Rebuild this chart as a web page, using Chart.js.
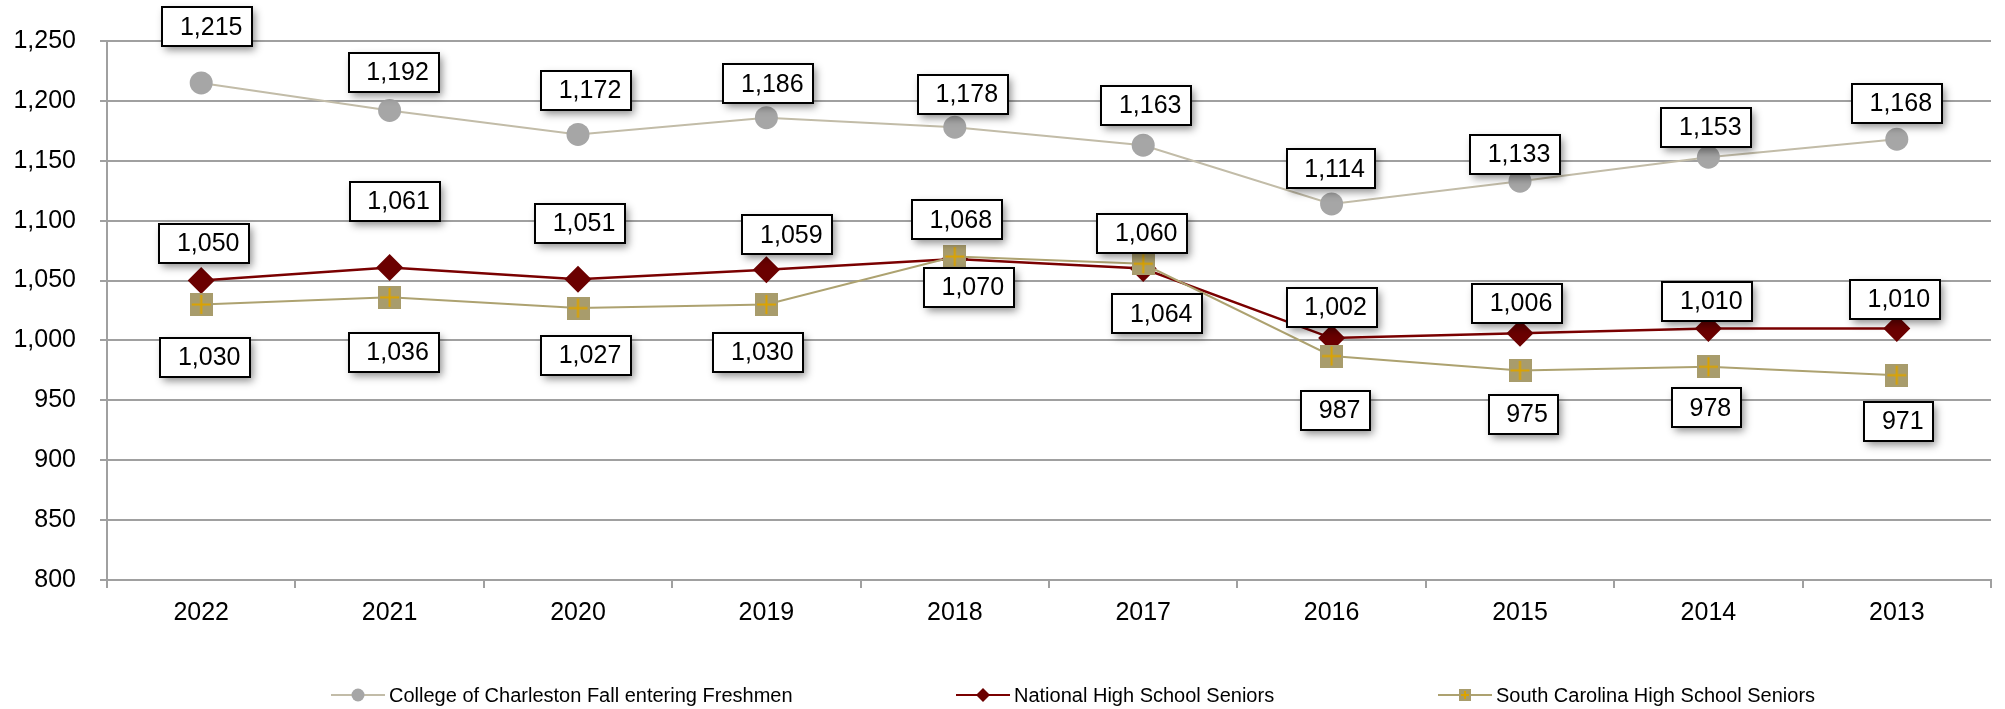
<!DOCTYPE html>
<html>
<head>
<meta charset="utf-8">
<script src="https://cdn.jsdelivr.net/npm/chart.js@4.4.0/dist/chart.umd.min.js"></script>
<style>
html, body { margin: 0; padding: 0; background: #fff; }
#wrap { width: 2005px; height: 709px; }
</style>
</head>
<body>
<div id="wrap"><canvas id="c"></canvas></div>
<script>
// data
const years = ['2022', '2021', '2020', '2019', '2018', '2017', '2016', '2015', '2014', '2013'];
const cofc = [1215, 1192, 1172, 1186, 1178, 1163, 1114, 1133, 1153, 1168];
const national = [1050, 1061, 1051, 1059, 1068, 1060, 1002, 1006, 1010, 1010];
const southCarolina = [1030, 1036, 1027, 1030, 1070, 1064, 987, 975, 978, 971];
const seriesNames = ['College of Charleston Fall entering Freshmen', 'National High School Seniors', 'South Carolina High School Seniors'];
const yMin = 800, yMax = 1250, yStep = 50;

// label box placement (px from the point), as in the original
const cofcDx = [6, 4, 8, 2, 8, 3, -1, -5, -2, 0];
const cofcDy = [-56, -38, -44, -34, -33, -40, -35, -27, -30, -36];
const natDx = [3, 5, 2, 21, 2, -1, 0, -3, -1, -2];
const natDy = [-37, -66, -56, -35, -39, -35, -31, -30, -27, -29];
const scDx = [4, 4, 8, -8, 14, 14, 4, 3, -2, 2];
const scDy = [53, 55, 47, 48, 31, 50, 54, 44, 41, 46];
const legendX = [331, 956, 1438];

const FONT = '"Liberation Sans", Arial, sans-serif';

function scMarker(size) {
    const c = document.createElement('canvas');
    c.width = c.height = size;
    const g = c.getContext('2d');
    g.fillStyle = '#A89C6C';
    g.fillRect(0, 0, size, size);
    g.strokeStyle = '#DCA300';
    g.lineWidth = 2;
    g.beginPath();
    g.moveTo(size / 2, 2); g.lineTo(size / 2, size - 2);
    g.moveTo(2, size / 2); g.lineTo(size - 2, size / 2);
    g.stroke();
    return c;
}

const labelBoxes = {
    id: 'labelBoxes',
    afterDatasetsDraw(chart) {
        const ctx = chart.ctx;
        ctx.save();
        ctx.font = '25px ' + FONT;
        chart.data.datasets.forEach((ds, i) => {
            const meta = chart.getDatasetMeta(i);
            meta.data.forEach((pt, j) => {
                const txt = ds.data[j].toLocaleString('en-US');
                const w = Math.round(ctx.measureText(txt).width + 27), h = 39;
                const cx = pt.x + ds.labelDx[j], cy = pt.y + ds.labelDy[j];
                const x = Math.round(cx - w / 2), y = Math.round(cy - h / 2);
                ctx.shadowColor = 'rgba(0,0,0,0.45)';
                ctx.shadowBlur = 8;
                ctx.shadowOffsetX = 3;
                ctx.shadowOffsetY = 4;
                ctx.fillStyle = '#fff';
                ctx.fillRect(x, y, w, h);
                ctx.shadowColor = 'transparent';
                ctx.lineWidth = 2;
                ctx.strokeStyle = '#000';
                ctx.strokeRect(x, y, w, h);
                ctx.fillStyle = '#000';
                ctx.textAlign = 'center';
                ctx.textBaseline = 'middle';
                ctx.fillText(txt, cx + 4, cy + 1);
            });
        });
        ctx.restore();
    }
};

const legendRow = {
    id: 'legendRow',
    afterDraw(chart) {
        const ctx = chart.ctx;
        const y = 695;
        ctx.save();
        chart.data.datasets.forEach((ds, i) => {
            const x0 = legendX[i], mx = x0 + 27;
            ctx.strokeStyle = ds.borderColor;
            ctx.lineWidth = 2;
            ctx.beginPath(); ctx.moveTo(x0, y); ctx.lineTo(x0 + 54, y); ctx.stroke();
            ctx.fillStyle = ds.pointBackgroundColor;
            if (ds.pointStyle === 'circle') {
                ctx.beginPath(); ctx.arc(mx, y, 6.5, 0, Math.PI * 2); ctx.fill();
            } else if (ds.pointStyle === 'rectRot') {
                ctx.beginPath();
                ctx.moveTo(mx, y - 7); ctx.lineTo(mx + 7, y); ctx.lineTo(mx, y + 7); ctx.lineTo(mx - 7, y);
                ctx.closePath(); ctx.fill();
            } else {
                ctx.drawImage(ds.legendIcon, mx - 6, y - 6);
            }
            ctx.fillStyle = '#000';
            ctx.font = '20px ' + FONT;
            ctx.textAlign = 'left';
            ctx.textBaseline = 'middle';
            ctx.fillText(seriesNames[i], x0 + 58, y + 1);
        });
        ctx.restore();
    }
};

const gridColor = '#A0A0A0';

new Chart(document.getElementById('c'), {
    type: 'line',
    data: {
        labels: years,
        datasets: [
            {
                label: seriesNames[0], data: cofc, order: 2,
                borderColor: '#C2BCA8', borderWidth: 2,
                pointStyle: 'circle', pointRadius: 11.5, pointHoverRadius: 11.5,
                pointBackgroundColor: '#A6A6A6', pointBorderColor: '#A6A6A6', pointBorderWidth: 0,
                labelDx: cofcDx, labelDy: cofcDy
            },
            {
                label: seriesNames[1], data: national, order: 1,
                borderColor: '#7A0000', borderWidth: 2.5,
                pointStyle: 'rectRot', pointRadius: 13.5, pointHoverRadius: 13.5,
                pointBackgroundColor: '#6B0000', pointBorderColor: '#6B0000', pointBorderWidth: 0,
                labelDx: natDx, labelDy: natDy
            },
            {
                label: seriesNames[2], data: southCarolina, order: 0,
                borderColor: '#ADA270', borderWidth: 2,
                pointStyle: scMarker(23), pointRadius: 12, pointHoverRadius: 12,
                pointBackgroundColor: '#A89C6C',
                legendIcon: scMarker(12),
                labelDx: scDx, labelDy: scDy
            }
        ]
    },
    options: {
        responsive: true,
        maintainAspectRatio: false,
        devicePixelRatio: 1,
        animation: false,
        layout: { padding: { left: 0, right: 13, top: 41, bottom: 0 } },
        plugins: { legend: { display: false }, tooltip: { enabled: false } },
        elements: { line: { tension: 0 } },
        scales: {
            x: {
                offset: true,
                grid: { display: true, drawOnChartArea: false, drawTicks: true, tickLength: 8, color: gridColor, lineWidth: 2, offset: true },
                border: { display: true, color: gridColor, width: 2 },
                ticks: { color: '#000', font: { family: FONT, size: 25 }, padding: 10, maxRotation: 0 },
                afterFit: s => { s.height = 129; }
            },
            y: {
                min: yMin, max: yMax,
                grid: { color: gridColor, lineWidth: 2, tickLength: 7 },
                border: { display: true, color: gridColor, width: 2 },
                ticks: { stepSize: yStep, color: '#000', font: { family: FONT, size: 25 }, padding: 24,
                    callback: v => v.toLocaleString('en-US') },
                afterFit: s => { s.width = 107; }
            }
        }
    },
    plugins: [labelBoxes, legendRow]
});
</script>
</body>
</html>
